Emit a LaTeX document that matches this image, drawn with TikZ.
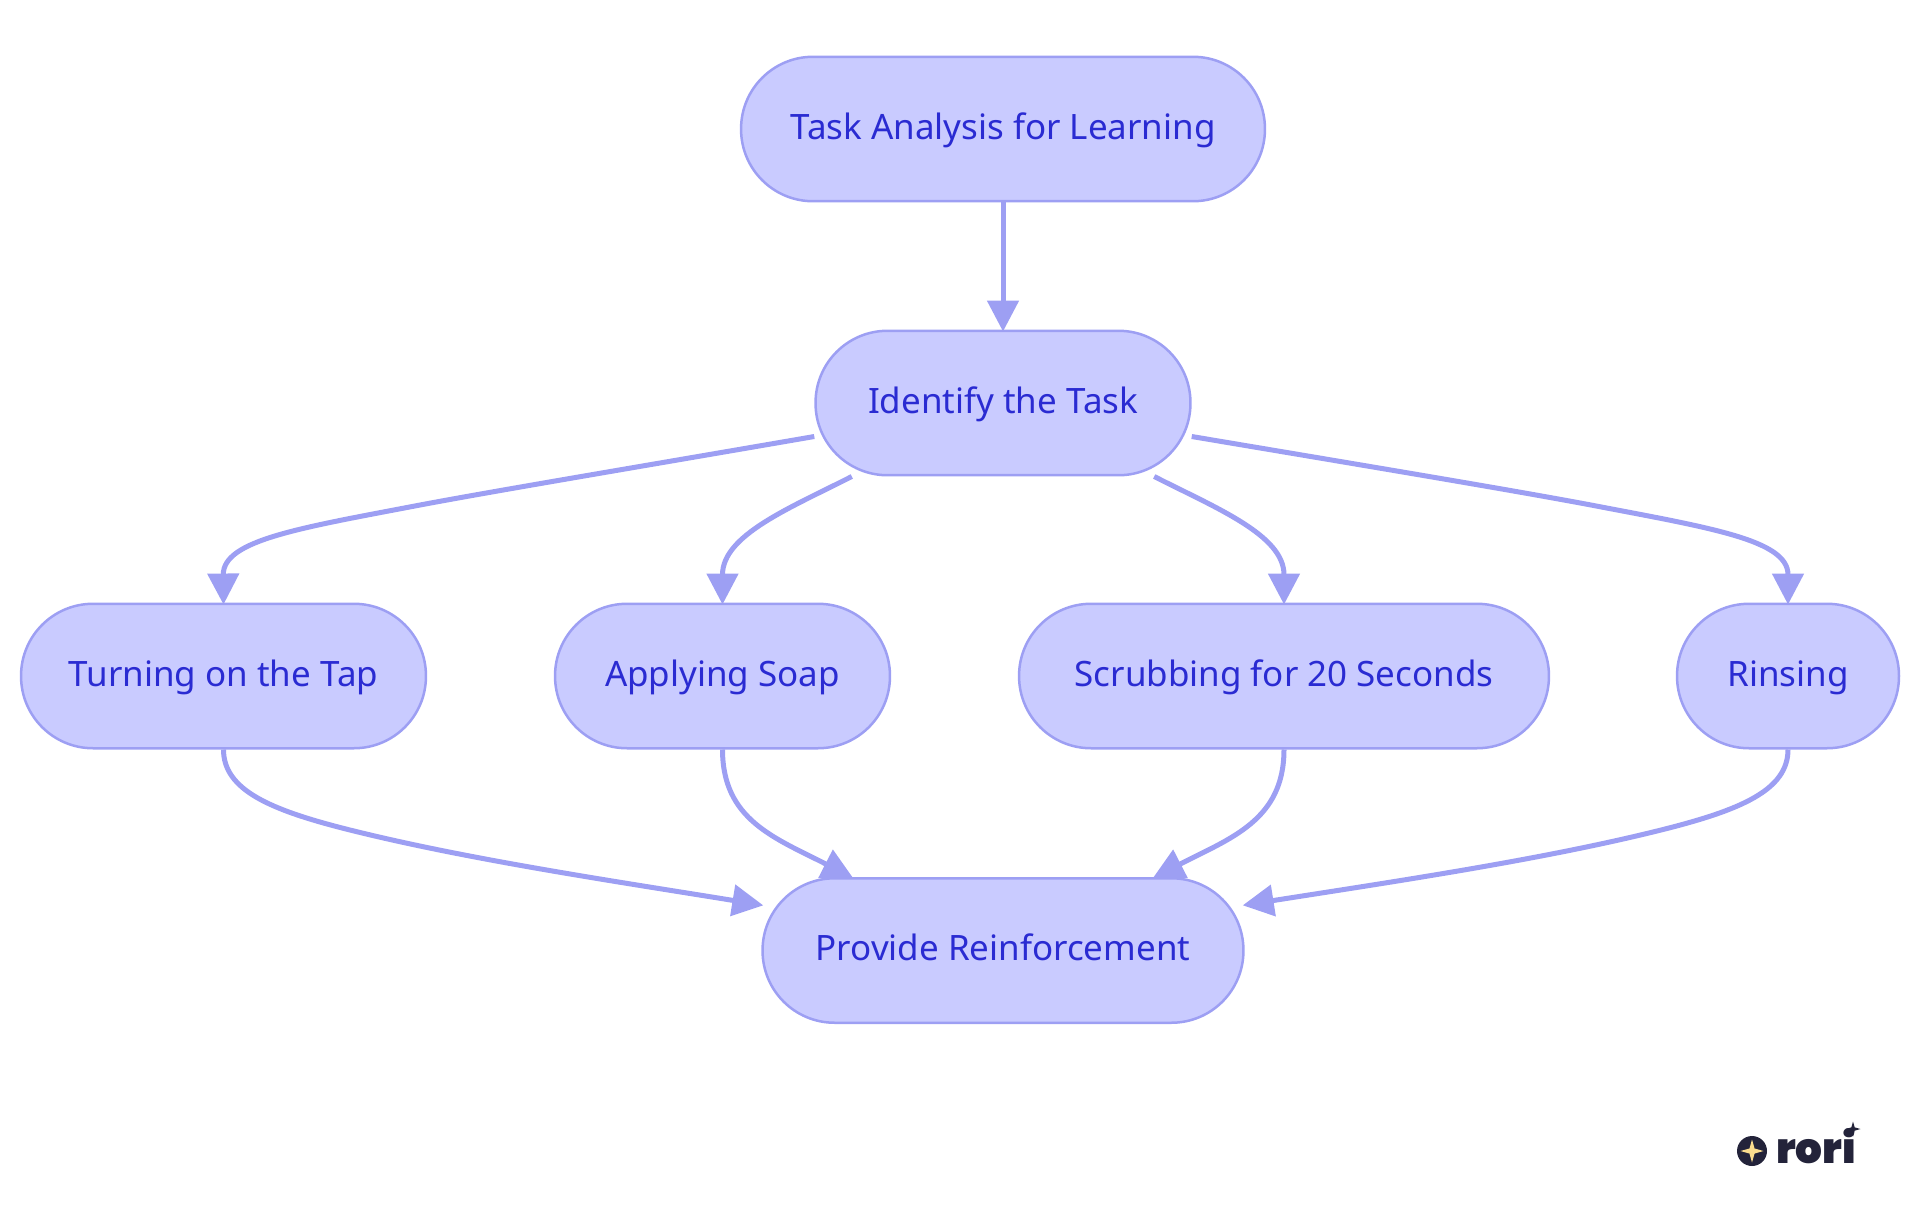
\documentclass[tikz,border=0pt]{standalone}
\usepackage{fontspec}
\setmainfont{Noto Sans}
\newfontfamily\logofont{Poppins Black}
\usetikzlibrary{arrows.meta,shapes.geometric}
\definecolor{stepfill}{HTML}{C9CBFF}
\definecolor{stepline}{HTML}{9D9FF3}
\definecolor{steptext}{HTML}{2A2BD2}
\definecolor{logodark}{HTML}{23233A}
\definecolor{logostar}{HTML}{FBDD8E}
\begin{document}
\begin{tikzpicture}[x=0.02cm, y=-0.02cm,
    stepbox/.style = {draw=stepline, fill=stepfill, text=steptext, line width=0.05cm, rounded corners=1.44cm, minimum height=2.89cm, text height=0.56cm, text depth=0.16cm, font=\fontsize{19.9}{24}\selectfont},
    flow/.style = {draw=stepline, line width=0.1cm, shorten >=-0.04cm, -{Triangle[length=0.62cm,width=0.62cm]}},
    logostarshape/.style = {star, star points=4, star point ratio=3.2, inner sep=0pt, draw=none}]
      \useasboundingbox (0,0) rectangle (1920,1215);

      \node [stepbox, minimum width=10.48cm] (task) at (1003,129) {Task Analysis for Learning};
      \node [stepbox, minimum width=7.5cm] (identify) at (1003,403) {Identify the Task};
      \node [stepbox, minimum width=8.1cm] (tap) at (223.5,676) {Turning on the Tap};
      \node [stepbox, minimum width=6.7cm] (soap) at (722.5,676) {Applying Soap};
      \node [stepbox, minimum width=10.6cm] (scrub) at (1284,676) {Scrubbing for 20 Seconds};
      \node [stepbox, minimum width=4.44cm] (rinse) at (1788,676) {Rinsing};
      \node [stepbox, minimum width=9.62cm] (reward) at (1003,950.5) {Provide Reinforcement};

      \draw [flow] (task) -- (identify);
      \draw [flow] ([yshift=0.8cm]identify.south west) .. controls (620,470) and (500,490) .. (420,505) .. controls (300,528) and (223,540) .. (tap.north);
      \draw [flow] ([xshift=0.75cm]identify.south west) .. controls (790,508) and (722.5,535) .. (soap.north);
      \draw [flow] ([xshift=-0.75cm]identify.south east) .. controls (1216,508) and (1284,535) .. (scrub.north);
      \draw [flow] ([yshift=0.8cm]identify.south east) .. controls (1391,470) and (1511,490) .. (1591,505) .. controls (1711,528) and (1788,540) .. (rinse.north);
      \draw [flow] (tap.south) .. controls (223.5,790) and (270,810) .. (350,830) .. controls (470,860) and (620,882) .. ([yshift=-0.56cm]reward.north west);
      \draw [flow] (soap.south) .. controls (722.5,820) and (775,838) .. ([xshift=1.8cm]reward.north west);
      \draw [flow] (scrub.south) .. controls (1284,820) and (1231,838) .. ([xshift=-1.8cm]reward.north east);
      \draw [flow] (rinse.south) .. controls (1788,790) and (1741,810) .. (1661,830) .. controls (1541,860) and (1391,882) .. ([yshift=-0.56cm]reward.north east);

      \node [circle, fill=logodark, minimum size=0.6cm, inner sep=0pt] (logodot) at (1752,1151) {};
      \node [logostarshape, fill=logostar, minimum size=0.46cm] (logospark) at (logodot) {};
      \node [inner sep=0pt, anchor=base, text=logodark, font=\logofont\fontsize{24}{24}\selectfont] (logoword) at (1816,1163) {rori};
      \node [logostarshape, fill=logodark, minimum size=0.3cm] (logosmall) at (1853,1129) {};
    \end{tikzpicture}
\end{document}
